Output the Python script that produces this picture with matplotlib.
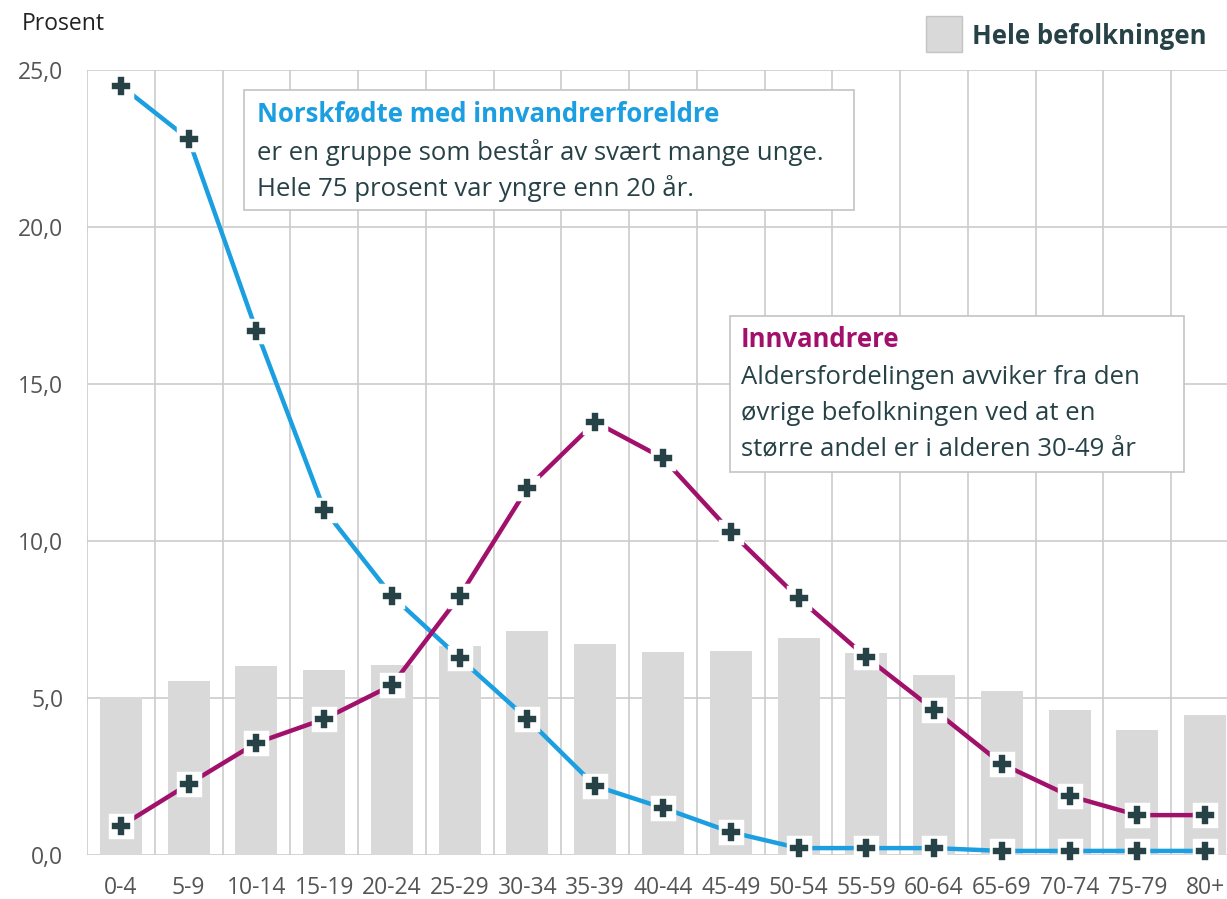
import numpy as np
import matplotlib.pyplot as plt
import matplotlib.patches as mpatches
from matplotlib.ticker import FuncFormatter

plt.rcParams['font.family'] = ['Open Sans', 'DejaVu Sans']

# data
groups = ['0-4', '5-9', '10-14', '15-19', '20-24', '25-29', '30-34', '35-39', '40-44',
          '45-49', '50-54', '55-59', '60-64', '65-69', '70-74', '75-79', '80+']
hele = [5.03, 5.54, 6.02, 5.89, 6.05, 6.66, 7.13, 6.72, 6.46, 6.5, 6.91, 6.43, 5.73,
        5.22, 4.62, 3.98, 4.46]
norskfodte = [24.5, 22.8, 16.7, 11.0, 8.25, 6.27, 4.33, 2.2, 1.5, 0.73, 0.22, 0.22, 0.22,
              0.13, 0.13, 0.13, 0.13]
innvandrere = [0.92, 2.26, 3.57, 4.33, 5.41, 8.25, 11.69, 13.79, 12.64, 10.29, 8.18, 6.3,
               4.62, 2.9, 1.88, 1.27, 1.27]

W, H = 1227, 899
blue = '#1b9fe0'
purple = '#a1106b'
dark = '#274247'
gray_bar = '#d9d9d9'
grid_c = '#cccccc'
txt_size = 18.5

def px(x, y):
    return x / W, 1 - y / H

fig = plt.figure(figsize=(W / 100, H / 100), dpi=100)
ax = fig.add_axes([87 / W, 44 / H, (1239 - 87) / W, 785 / H])

x = np.arange(len(groups))
ax.bar(x, hele, width=0.62, color=gray_bar, zorder=2)

for y in range(0, 26, 5):
    ax.axhline(y, color=grid_c, lw=1.2, zorder=1)
for b in np.arange(-0.5, len(groups), 1):
    ax.axvline(b, color=grid_c, lw=1.2, zorder=1)

for vals, col in [(norskfodte, blue), (innvandrere, purple)]:
    ax.plot(x, vals, color=col, lw=3.2, zorder=3, solid_capstyle='butt')
    ax.plot(x, vals, 's', ms=15.5, mfc='white', mec='white', mew=2.5,
            zorder=4, clip_on=False)
    ax.plot(x, vals, 'P', ms=13, mfc=dark, mec=dark, mew=0.3, zorder=5, clip_on=False)

ax.set_xlim(-0.5, len(groups) - 0.5)
ax.set_ylim(0, 25)
ax.set_xticks(x)
ax.set_xticklabels(groups)
ax.set_yticks(np.arange(0, 26, 5))
ax.yaxis.set_major_formatter(FuncFormatter(lambda v, p: f'{v:.1f}'.replace('.', ',')))
for s in ax.spines.values():
    s.set_visible(False)
ax.tick_params(length=0, labelsize=16.5, colors='#555555')
ax.tick_params(axis='x', pad=15)
ax.tick_params(axis='y', pad=17)

fig.text(*px(22, 24), 'Prosent', fontsize=16.5, color='#222222', va='center')

# legend
fig.patches.append(mpatches.Rectangle(px(926, 52), 36 / W, 36 / H, transform=fig.transFigure,
                                      facecolor=gray_bar, edgecolor='#c4c4c4', lw=1))
fig.text(*px(972, 37), 'Hele befolkningen', fontsize=txt_size, fontweight='bold', color=dark,
         va='center')

# annotation boxes
fig.patches.append(mpatches.Rectangle(px(244, 210), 610 / W, 120 / H, transform=fig.transFigure,
                                      facecolor='white', edgecolor='#c4c4c4', lw=1.2))
fig.text(*px(257, 114), 'Norskfødte med innvandrerforeldre', fontsize=txt_size,
         fontweight='bold', color=blue, va='center')
fig.text(*px(257, 153), 'er en gruppe som består av svært mange unge.', fontsize=txt_size,
         color=dark, va='center')
fig.text(*px(257, 188), 'Hele 75 prosent var yngre enn 20 år.', fontsize=txt_size,
         color=dark, va='center')

fig.patches.append(mpatches.Rectangle(px(730, 472), 454 / W, 156 / H, transform=fig.transFigure,
                                      facecolor='white', edgecolor='#c4c4c4', lw=1.2))
fig.text(*px(741, 340), 'Innvandrere', fontsize=txt_size, fontweight='bold', color=purple,
         va='center')
fig.text(*px(741, 378), 'Aldersfordelingen avviker fra den', fontsize=txt_size, color=dark,
         va='center')
fig.text(*px(741, 413), 'øvrige befolkningen ved at en', fontsize=txt_size, color=dark,
         va='center')
fig.text(*px(741, 449), 'større andel er i alderen 30-49 år', fontsize=txt_size, color=dark,
         va='center')

fig.savefig('out.png', dpi=100)
